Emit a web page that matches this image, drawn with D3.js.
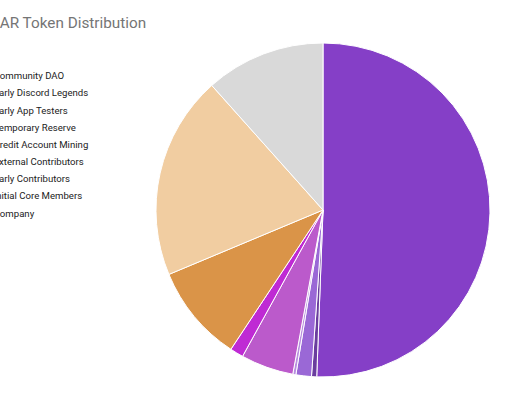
<!DOCTYPE html>
<html><head><meta charset="utf-8">
<script src="https://cdn.jsdelivr.net/npm/d3@7"></script>
<style>html,body{margin:0;padding:0;background:#fff;overflow:hidden}</style>
</head><body>
<svg id="c" width="520" height="400"></svg>
<script>
const title = "GEAR Token Distribution";
const categories = ["Community DAO","Early Discord Legends","Early App Testers","Temporary Reserve","Credit Account Mining","External Contributors","Early Contributors","Initial Core Members","Company"];
const values = [50.6, 0.5, 1.5, 0.3, 5.1, 1.3, 9.4, 19.7, 11.6];
const colors = ["#853fc7","#6a3d9e","#9a68d6","#b98ee0","#bb5acb","#bf2ad4","#da9448","#f1cda1","#d9d9d9"];

const svg = d3.select("#c");
const cx = 323, cy = 210, r = 167;

const pie = d3.pie().sort(null).value(d => d.v);
const arc = d3.arc().innerRadius(0).outerRadius(r);
const data = categories.map((c,i)=>({c, v: values[i], col: colors[i]}));

svg.append("g").attr("transform",`translate(${cx},${cy})`)
  .selectAll("path").data(pie(data)).join("path")
  .attr("d", arc).attr("fill", d => d.data.col)
  .attr("stroke","#fff").attr("stroke-width",1);

// title: first two letters fall off the left edge (as in the reference crop)
const t = svg.append("text").text(title)
  .attr("y", 28).attr("font-family","Roboto, Arial, sans-serif")
  .attr("font-size", 15.3).attr("fill","#757575");
const off = t.node().getSubStringLength(0,2);
t.attr("x", -off - 0.3);

// legend
const ly = d3.scalePoint().domain(categories).range([79.3, 216.5]);
svg.append("g").selectAll("text").data(categories).join("text")
  .attr("x", -6.4).attr("y", d => ly(d))
  .attr("font-family","Roboto, Arial, sans-serif").attr("font-size", 9.6)
  .attr("fill","#222").text(d => d);
</script>
</body></html>
